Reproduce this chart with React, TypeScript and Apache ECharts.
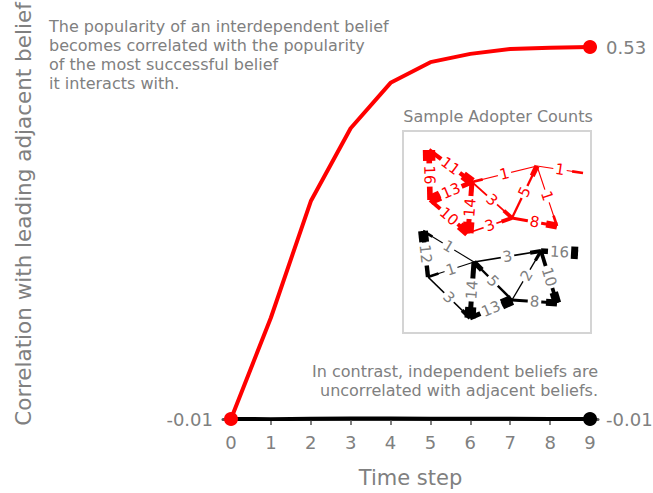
import React, { useEffect, useRef } from "react";
import * as echarts from "echarts";

const timeSteps = [0, 1, 2, 3, 4, 5, 6, 7, 8, 9];
const interdependent = [-0.01, 0.137, 0.306, 0.412, 0.478, 0.508, 0.52, 0.527, 0.529, 0.53];
const independent = [-0.01, -0.0102, -0.0097, -0.0093, -0.0094, -0.0096, -0.0097, -0.0098, -0.0099, -0.01];
const yTicks = [-0.01];

const annotationTop = [
  "The popularity of an interdependent belief",
  "becomes correlated with the popularity",
  "of the most successful belief",
  "it interacts with.",
];
const annotationBottom = ["In contrast, independent beliefs are", "uncorrelated with adjacent beliefs."];
const insetTitle = "Sample Adopter Counts";
const yName = "Correlation with leading adjacent belief";
const xName = "Time step";

// Inset network: node layout (inset units) and edges [source, target, adopters]
const redNodes: Record<string, number[]> = {
  A: [26, 19], B: [69, 51], C: [27, 69], D: [65, 102],
  E: [109, 87], F: [134, 35], G: [154, 95], H: [180, 42],
};
const redEdges: [string, string, number][] = [
  ["A", "B", 11], ["C", "A", 16], ["B", "C", 13], ["C", "D", 10],
  ["B", "D", 14], ["F", "B", 1], ["B", "E", 3], ["D", "E", 3],
  ["E", "F", 5], ["E", "G", 8], ["F", "G", 1], ["F", "H", 1],
];
const blackNodes: Record<string, number[]> = {
  a: [20, 100], b: [71, 131], c: [25, 146], d: [67, 187],
  e: [109, 169], f: [138, 120], g: [154, 172], h: [175, 122],
};
const blackEdges: [string, string, number][] = [
  ["b", "a", 1], ["c", "a", 12], ["b", "c", 1], ["c", "d", 3],
  ["b", "d", 14], ["b", "f", 3], ["d", "e", 13], ["e", "b", 5],
  ["e", "f", 2], ["e", "g", 8], ["f", "g", 10], ["f", "h", 16],
];

const GRAY = "#808080";
const FONT = "DejaVu Sans";

function edgeData(nodes: Record<string, number[]>, edges: [string, string, number][]) {
  return edges.map(([s, t, n]) => [nodes[s][0], nodes[s][1], nodes[t][0], nodes[t][1], n]);
}

function makeNetSeries(data: number[][], color: string, labelColor: string) {
  return {
    type: "custom",
    xAxisIndex: 1,
    yAxisIndex: 1,
    z: 5,
    data,
    renderItem: (_params: any, api: any) => {
      const p1 = api.coord([api.value(0), api.value(1)]);
      const p2 = api.coord([api.value(2), api.value(3)]);
      const n = api.value(4);
      const dx = p2[0] - p1[0];
      const dy = p2[1] - p1[1];
      const len = Math.sqrt(dx * dx + dy * dy) || 1;
      const ux = dx / len;
      const uy = dy / len;
      const headLen = 11;
      const mx = (p1[0] + p2[0]) / 2;
      const my = (p1[1] + p2[1]) / 2;
      let ang = Math.atan2(dy, dx);
      if (ang > Math.PI / 2) ang -= Math.PI;
      if (ang < -Math.PI / 2) ang += Math.PI;
      return {
        type: "group",
        children: [
          {
            type: "line",
            z2: 1,
            shape: { x1: p1[0], y1: p1[1], x2: p2[0], y2: p2[1] },
            style: { stroke: color, lineWidth: 0.8 + n * 0.3 },
          },
          {
            type: "line",
            z2: 2,
            shape: { x1: p2[0] - ux * headLen, y1: p2[1] - uy * headLen, x2: p2[0], y2: p2[1] },
            style: { stroke: color, lineWidth: 2 + n * 0.65 },
          },
          {
            type: "text",
            z2: 20,
            x: mx,
            y: my,
            rotation: -ang,
            style: {
              text: String(n),
              fill: labelColor,
              font: `15px "${FONT}"`,
              align: "center",
              verticalAlign: "middle",
              backgroundColor: "#ffffff",
              padding: [0, 2],
            },
          },
        ],
      };
    },
  };
}

function endPointData(values: number[], showFirst: boolean) {
  return values.map((v, i) => {
    const isEnd = i === values.length - 1 || (showFirst && i === 0);
    return { value: [timeSteps[i], v], symbol: isEnd ? "circle" : "none" };
  });
}

export default function App() {
  const ref = useRef<HTMLDivElement>(null);
  useEffect(() => {
    if (!ref.current) return;
    const chart = echarts.init(ref.current, null, { renderer: "svg" });
    const option: any = {
      animation: false,
      backgroundColor: "#ffffff",
      textStyle: { fontFamily: FONT },
      grid: [
        { left: 223, right: 55, top: 47, bottom: 73 },
        {
          left: 403, top: 131, width: 188, height: 202, show: true,
          borderColor: "#d4d4d4", borderWidth: 2, backgroundColor: "#ffffff", z: 3,
        },
      ],
      xAxis: [
        {
          type: "value",
          gridIndex: 0,
          min: -0.2,
          max: 9.2,
          splitLine: { show: false },
          axisLine: { show: true, onZero: false, lineStyle: { color: "#555555", width: 3 } },
          axisTick: { show: true, customValues: timeSteps, length: 6, lineStyle: { color: GRAY, width: 2 } },
          axisLabel: { customValues: timeSteps, color: GRAY, fontSize: 18, margin: 14, fontFamily: FONT },
          name: xName,
          nameLocation: "middle",
          nameGap: 48,
          nameTextStyle: { color: GRAY, fontSize: 21, fontFamily: FONT },
        },
        { type: "value", gridIndex: 1, min: 0, max: 188, show: false },
      ],
      yAxis: [
        {
          type: "value",
          gridIndex: 0,
          min: -0.01,
          max: 0.53,
          splitLine: { show: false },
          axisLine: { show: false },
          axisTick: { show: true, customValues: yTicks, length: 6, lineStyle: { color: GRAY, width: 2 } },
          axisLabel: {
            customValues: yTicks, color: GRAY, fontSize: 18, margin: 10, fontFamily: FONT,
            formatter: (v: number) => v.toFixed(2),
          },
        },
        { type: "value", gridIndex: 1, min: 0, max: 202, inverse: true, show: false },
      ],
      series: [
        {
          type: "line",
          name: "independent",
          data: endPointData(independent, false),
          symbolSize: 14,
          showAllSymbol: true,
          itemStyle: { color: "#000000" },
          lineStyle: { color: "#000000", width: 4 },
          z: 2,
          endLabel: {
            show: true,
            formatter: () => independent[independent.length - 1].toFixed(2),
            color: GRAY, fontSize: 18, distance: 16, fontFamily: FONT,
          },
        },
        {
          type: "line",
          name: "interdependent",
          data: endPointData(interdependent, true),
          symbolSize: 14,
          showAllSymbol: true,
          itemStyle: { color: "#ff0000" },
          lineStyle: { color: "#ff0000", width: 4 },
          z: 4,
          endLabel: {
            show: true,
            formatter: () => interdependent[interdependent.length - 1].toFixed(2),
            color: GRAY, fontSize: 18, distance: 16, fontFamily: FONT,
          },
        },
        makeNetSeries(edgeData(redNodes, redEdges), "#ff0000", "#ff0000"),
        makeNetSeries(edgeData(blackNodes, blackEdges), "#000000", GRAY),
      ],
      graphic: [
        {
          type: "text",
          x: 23, y: 214, rotation: Math.PI / 2,
          style: {
            text: yName, fill: GRAY, font: `21.5px "${FONT}"`,
            align: "center", verticalAlign: "middle",
          },
        },
        {
          type: "text",
          x: 49, y: 17,
          style: {
            text: annotationTop.join("\n"), fill: GRAY, font: `16px "${FONT}"`,
            lineHeight: 19, align: "left", verticalAlign: "top",
          },
        },
        {
          type: "text",
          x: 598, y: 362,
          style: {
            text: annotationBottom.join("\n"), fill: GRAY, font: `16px "${FONT}"`,
            lineHeight: 19, align: "right", verticalAlign: "top",
          },
        },
        {
          type: "text",
          x: 498, y: 116,
          style: {
            text: insetTitle, fill: GRAY, font: `16px "${FONT}"`,
            align: "center", verticalAlign: "middle",
          },
        },
      ],
    };
    chart.setOption(option);
    return () => chart.dispose();
  }, []);
  return (
    <div
      ref={ref}
      style={{ position: "fixed", left: 0, top: 0, width: 653, height: 493 }}
    />
  );
}
